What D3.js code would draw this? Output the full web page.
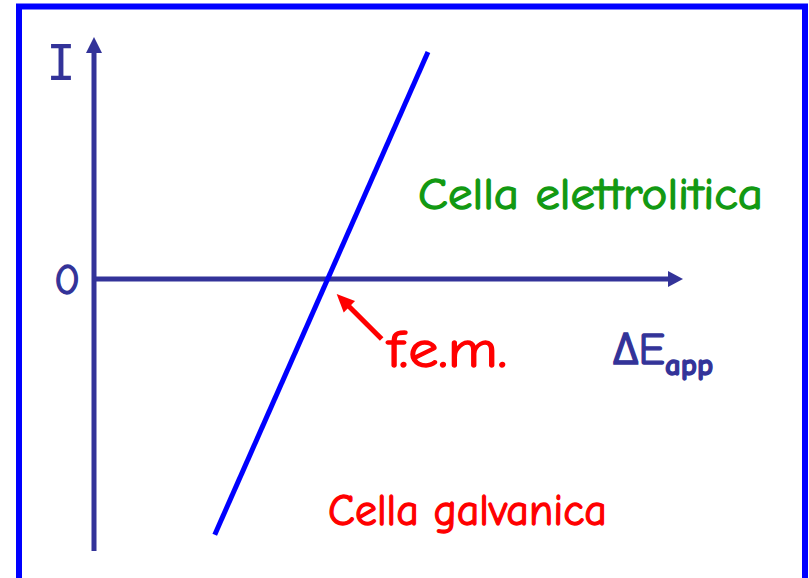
<!DOCTYPE html>
<html>
<head>
<meta charset="utf-8">
<script src="https://cdn.jsdelivr.net/npm/d3@7"></script>
<style>
  body { margin: 0; background: #fff; }
  text { font-family: "Comic Sans MS", "Comic Neue", "Open Sans", sans-serif; }
</style>
</head>
<body>
<svg id="chart" width="809" height="578"></svg>
<script>
var width = 809;
var height = 578;

// axis extents (data units): DeltaE_app on x, I on y
var xExtent = [0, 10];
var yExtent = [-1, 0.89];

// the I vs DeltaE_app line (two ends)
var lineE = [2.05, 5.67];
var lineI = [-0.94, 0.835];

// labels
var yLabel = "I";
var zeroLabel = "0";
var femLabel = "f.e.m.";
var elettroLabel = "Cella elettrolitica";
var galvLabel = "Cella galvanica";

var axisColor = "#333399";
var lineColor = "#0000ff";

var svg = d3.select("svg#chart");

var x = d3.scaleLinear().domain(xExtent).range([94, 683]);
var y = d3.scaleLinear().domain(yExtent).range([551, 37]);

// frame
svg.append("rect")
   .attr("x", 19).attr("y", 6.5)
   .attr("width", 786).attr("height", 620)
   .attr("fill", "none")
   .attr("stroke", lineColor)
   .attr("stroke-width", 6);

// y axis with arrow
svg.append("line")
   .attr("x1", x(0)).attr("x2", x(0))
   .attr("y1", y(yExtent[0])).attr("y2", y(yExtent[1]) + 14)
   .attr("stroke", axisColor).attr("stroke-width", 5);
svg.append("path")
   .attr("d", d3.line()([[x(0), y(yExtent[1])], [x(0) - 8, y(yExtent[1]) + 16], [x(0) + 8, y(yExtent[1]) + 16]]) + "Z")
   .attr("fill", axisColor);

// x axis with arrow
svg.append("line")
   .attr("x1", x(0)).attr("x2", x(xExtent[1]) - 14)
   .attr("y1", y(0)).attr("y2", y(0))
   .attr("stroke", axisColor).attr("stroke-width", 5);
svg.append("path")
   .attr("d", d3.line()([[x(xExtent[1]), y(0)], [x(xExtent[1]) - 15, y(0) - 8], [x(xExtent[1]) - 15, y(0) + 8]]) + "Z")
   .attr("fill", axisColor);

// the line
var pts = lineE.map(function(e, i) { return [x(e), y(lineI[i])]; });
svg.append("path")
   .attr("d", d3.line()(pts))
   .attr("stroke", lineColor)
   .attr("stroke-width", 5)
   .attr("fill", "none");

// f.e.m. = where the line crosses I = 0
var fem = lineE[0] + (0 - lineI[0]) * (lineE[1] - lineE[0]) / (lineI[1] - lineI[0]);
var tip = [x(fem) + 9, y(0) + 15];
var tail = [tip[0] + 45, tip[1] + 45];
var ang = Math.atan2(tip[1] - tail[1], tip[0] - tail[0]);
svg.append("line")
   .attr("x1", tail[0]).attr("y1", tail[1])
   .attr("x2", tip[0] - 14 * Math.cos(ang)).attr("y2", tip[1] - 14 * Math.sin(ang))
   .attr("stroke", "#ff0000").attr("stroke-width", 5);
var hl = 18, hw = 8;
var bx = tip[0] - hl * Math.cos(ang), by = tip[1] - hl * Math.sin(ang);
svg.append("path")
   .attr("d", d3.line()([tip,
      [bx + hw * Math.sin(ang), by - hw * Math.cos(ang)],
      [bx - hw * Math.sin(ang), by + hw * Math.cos(ang)]]) + "Z")
   .attr("fill", "#ff0000");

// texts (thin outline to match the heavier reference strokes)
function addText(px, py, size, col, str, len) {
  var t = svg.append("text")
     .attr("x", px).attr("y", py)
     .attr("font-size", size)
     .attr("fill", col)
     .attr("stroke", col).attr("stroke-width", 1.3)
     .text(str);
  if (len) t.attr("textLength", len).attr("lengthAdjust", "spacingAndGlyphs");
  return t;
}

svg.append("text")
   .attr("x", 61).attr("y", 80)
   .attr("text-anchor", "middle")
   .style("font-family", "'DejaVu Sans Mono', monospace")
   .attr("font-size", 49)
   .attr("fill", axisColor)
   .text(yLabel);

addText(67, 294, 43, axisColor, zeroLabel).attr("text-anchor", "middle");
addText(387, 367, 52, "#ff0000", femLabel, 120);

var dE = addText(613, 364, 44, axisColor, null);
dE.append("tspan").text("\u0394E");
dE.append("tspan")
  .attr("dy", 11)
  .attr("font-size", 31)
  .attr("font-weight", "bold")
  .text("app");

addText(418, 209, 45, "#129912", elettroLabel, 345);
addText(328, 525, 45, "#ff0000", galvLabel, 279);
</script>
</body>
</html>
